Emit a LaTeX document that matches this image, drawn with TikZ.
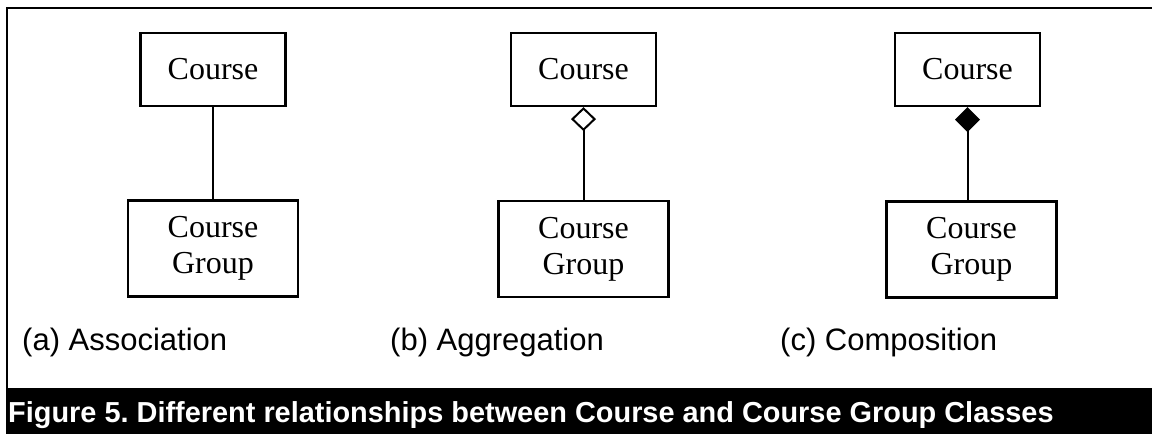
\documentclass[tikz,border=0pt]{standalone}
\usepackage{fontspec}
\setmainfont{Liberation Serif}
\newfontfamily\arialfont{Liberation Sans}
\usetikzlibrary{arrows.meta,positioning}
\frenchspacing

\begin{document}
\begin{tikzpicture}[x=1pt,y=-1pt,every node/.style={font=\fontsize{32}{36}\selectfont}]
\tikzset{cls/.style={draw, line width=2.2pt, align=center, inner sep=0pt,
  minimum width=145pt, minimum height=73pt},
  part/.style={cls, minimum width=170pt, minimum height=96pt},
  kind/.style={anchor=base west, inner sep=0pt, font=\arialfont\fontsize{31}{36}\selectfont},
  link/.style={line width=2pt}}
\useasboundingbox (0,0) rectangle (1152,434);
\fill (6,388) rectangle (1152,434);
\draw[line width=2.5pt] (7,434) -- (7,8) -- (1152,8);
% association
\node[cls] (ca) at (213,69.5) {Course};
\node[part] (cga) at (213,248.5) {Course\\Group};
\draw[link] (ca) -- (cga);
% aggregation
\node[cls] (cb) at (583.5,69.5) {Course};
\node[part] (cgb) at (583.5,249) {Course\\Group};
\draw[link, -{Diamond[open, length=24pt, width=25pt]}] (cgb) -- (cb);
% composition
\node[cls] (cc) at (967.5,69.5) {Course};
\node[part] (cgc) at (971.5,249.5) {Course\\Group};
\draw[link, -{Diamond[length=25pt, width=25pt]}] (cc.south |- cgc.north) -- (cc.south);
% labels
\node[kind] (la) at (22,350) {(a) Association};
\node[kind] (lb) at (390,350) {(b) Aggregation};
\node[kind] (lc) at (780,350) {(c) Composition};
\node[anchor=base west, inner sep=0pt, text=white,
  font=\arialfont\bfseries\fontsize{28.9}{34}\selectfont] (cap) at (8,422)
  {Figure 5. Different relationships between Course and Course Group Classes};
\end{tikzpicture}
\end{document}
